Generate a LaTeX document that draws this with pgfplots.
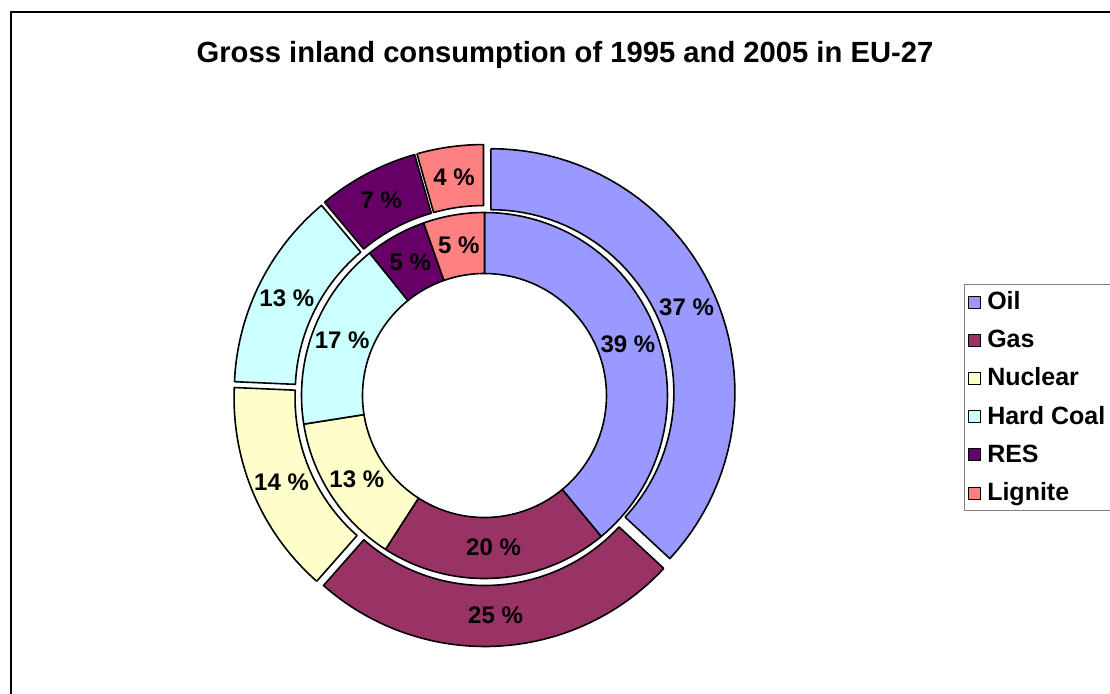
\documentclass[border=0pt]{standalone}
\usepackage{pgfplots}
\pgfplotsset{compat=1.18}
\usepackage{pgfplotstable}
\usepackage{fontspec}
\setmainfont{Liberation Sans}

\definecolor{oilc}{HTML}{9999FF}
\definecolor{gasc}{HTML}{993366}
\definecolor{nucc}{HTML}{FFFFCC}
\definecolor{coalc}{HTML}{CCFFFF}
\definecolor{resc}{HTML}{660066}
\definecolor{ligc}{HTML}{FF8080}

% shares in percent, inner ring = 1995, outer ring = 2005
\pgfplotstableread{
col   inner outer
oilc  39.0  36.9
gasc  20.1  24.6
nucc  13.4  14.2
coalc 16.7  13.2
resc  5.4   6.7
ligc  5.4   4.4
}\energy

\newcommand\lbl{\fontsize{24}{28}\selectfont\bfseries}
\def\cx{484.5}
\def\cy{395.5}

% #1 column, #2 inner radius, #3 outer radius, #4 explosion
\newcommand\ring[4]{%
  \def\tot{0}%
  \pgfplotsforeachungrouped \rowi in {0,...,5}{%
    \pgfplotstablegetelem{\rowi}{#1}\of\energy
    \pgfmathsetmacro\tot{\tot+\pgfplotsretval}}%
  \def\cum{0}%
  \pgfplotsforeachungrouped \rowi in {0,...,5}{%
    \pgfplotstablegetelem{\rowi}{#1}\of\energy \let\wval\pgfplotsretval
    \pgfplotstablegetelem{\rowi}{col}\of\energy \let\wcol\pgfplotsretval
    \pgfmathtruncatemacro\wlab{round(\wval)}%
    \pgfmathsetmacro\aA{\cum/\tot*360}%
    \pgfmathsetmacro\aB{(\cum+\wval)/\tot*360}%
    \pgfmathsetmacro\am{(\aA+\aB)/2}%
    \pgfmathsetmacro\ox{\cx+#4*sin(\am)}%
    \pgfmathsetmacro\oy{\cy-#4*cos(\am)}%
    \pgfmathsetmacro\lx{\ox+(#2+#3)/2*sin(\am)}%
    \pgfmathsetmacro\ly{\oy-(#2+#3)/2*cos(\am)}%
    \edef\doit{%
      \noexpand\addplot[forget plot, fill=\wcol, draw=black, line width=1.6pt,
        line join=round, samples=103, domain=0:2.04]
        ({\ox+wr(x,#2,#3)*sin(wa(x,\aA,\aB))},{\oy-wr(x,#2,#3)*cos(wa(x,\aA,\aB))});
      \noexpand\node[font=\noexpand\lbl] at (axis cs:\lx,\ly) {\wlab{} \noexpand\%};}%
    \doit
    \pgfmathsetmacro\cum{\cum+\wval}}%
}

\begin{document}
\begin{tikzpicture}[declare function={
    wa(\t,\a,\b)=(\t<1.01)*(\a+(\b-\a)*min(\t,1))+(\t>1.01)*(\t<2.03)*(\b-(\b-\a)*max(\t-1.02,0))+(\t>2.03)*\a;
    wr(\t,\p,\q)=(\t<1.01)*\q+(\t>1.01)*(\t<2.03)*\p+(\t>2.03)*\q;}]
\begin{axis}[
    scale only axis, width=1110pt, height=693pt,
    xmin=0, xmax=1110, ymin=0, ymax=693, y dir=reverse,
    hide axis, clip=false,
    legend image code/.code={\draw[#1, draw=black, line width=0.8pt] (0pt,-6pt) rectangle (12pt,6pt);},
    legend cell align=left,
    legend style={at={(axis description cs:0.8685,0.5902)}, anchor=north west,
      draw=gray, line width=0.8pt, inner xsep=4pt, inner ysep=6pt,
      font=\fontsize{25}{29}\selectfont\bfseries, column sep=6pt, row sep=15.2pt,
      nodes={inner sep=0pt, text height=19pt, text depth=4pt}},
  ]
  \draw[line width=1.5pt] (axis cs:11,12) rectangle (axis cs:1200,800);
  \node[font=\fontsize{29.2}{33}\selectfont\bfseries] at (axis cs:565,55)
    {Gross inland consumption of 1995 and 2005 in EU-27};

  \ring{inner}{122}{183}{0}
  \ring{outer}{183}{244}{7}

  \addlegendimage{fill=oilc}  \addlegendentry{Oil}
  \addlegendimage{fill=gasc}  \addlegendentry{Gas}
  \addlegendimage{fill=nucc}  \addlegendentry{Nuclear}
  \addlegendimage{fill=coalc} \addlegendentry{\makebox[140pt][l]{Hard Coal}}
  \addlegendimage{fill=resc}  \addlegendentry{RES}
  \addlegendimage{fill=ligc}  \addlegendentry{Lignite}
\end{axis}
\pgfresetboundingbox
\useasboundingbox (0,0) rectangle (1110pt,693pt);
\end{tikzpicture}
\end{document}
